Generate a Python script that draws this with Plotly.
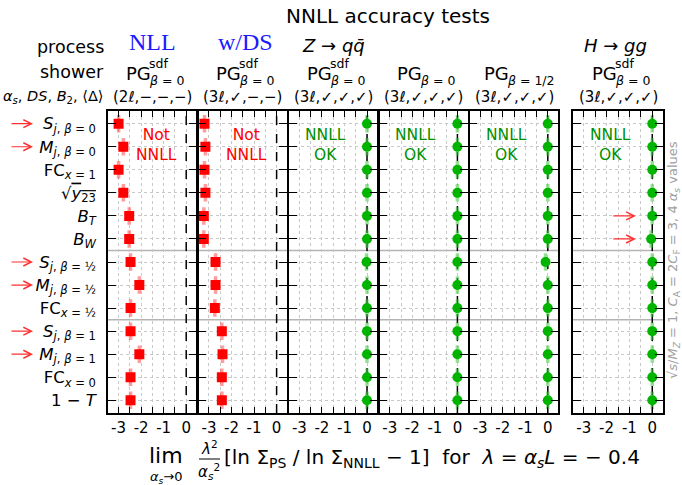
import plotly.graph_objects as go

# ---------------- data ----------------
row_labels = [
    "<i>S</i><sub><i>j</i>, <i>β</i> = 0</sub>",
    "<i>M</i><sub><i>j</i>, <i>β</i> = 0</sub>",
    "FC<sub><i>x</i> = 1</sub>",
    "√<span style='text-decoration:overline'><i>y</i><sub>23</sub></span>",
    "<i>B</i><sub><i>T</i></sub>",
    "<i>B</i><sub><i>W</i></sub>",
    "<i>S</i><sub><i>j</i>, <i>β</i> = ½</sub>",
    "<i>M</i><sub><i>j</i>, <i>β</i> = ½</sub>",
    "FC<sub><i>x</i> = ½</sub>",
    "<i>S</i><sub><i>j</i>, <i>β</i> = 1</sub>",
    "<i>M</i><sub><i>j</i>, <i>β</i> = 1</sub>",
    "FC<sub><i>x</i> = 0</sub>",
    "1 − <i>T</i>",
]
arrow_rows = [0, 1, 6, 7, 9, 10]          # observables marked with red arrows
hgg_arrow_rows = [4, 5]                    # B_T, B_W in H->gg panel

nll_2l = [-3.0, -2.79, -3.0, -2.79, -2.53, -2.53, -2.47, -2.08, -2.47, -2.47, -2.08, -2.47, -2.47]
nll_3l_ds = [-3.2, -3.16, -3.2, -3.16, -3.23, -3.23, -2.71, -2.71, -2.74, -2.43, -2.40, -2.43, -2.43]
pg_sdf_b0 = [0.0, 0.0, 0.0, 0.0, 0.0, 0.0, -0.02, 0.0, 0.0, 0.0, 0.0, 0.0, 0.0]
pg_b0 = [0.0, 0.0, 0.0, 0.0, 0.0, 0.0, 0.0, 0.0, 0.0, 0.0, 0.0, 0.0, 0.0]
pg_b12 = [0.0, 0.0, 0.0, 0.0, 0.0, 0.0, -0.1, 0.0, 0.0, 0.0, 0.0, 0.0, 0.0]
hgg_sdf_b0 = [0.0, 0.0, 0.0, 0.0, 0.0, -0.05, 0.0, 0.0, 0.0, 0.0, 0.0, 0.0, 0.0]

panel_values = [nll_2l, nll_3l_ds, pg_sdf_b0, pg_b0, pg_b12, hgg_sdf_b0]
panel_ok = [False, False, True, True, True, True]
shower_sub = ["β = 0", "β = 0", "β = 0", "β = 0", "β = 1/2", "β = 0"]
shower_sup = ["sdf", "sdf", "sdf", "", "", "sdf"]
settings = ["(2<i>ℓ</i>,−,−,−)", "(3<i>ℓ</i>,✓,−,−)", "(3<i>ℓ</i>,✓,✓,✓)",
            "(3<i>ℓ</i>,✓,✓,✓)", "(3<i>ℓ</i>,✓,✓,✓)", "(3<i>ℓ</i>,✓,✓,✓)"]
x_tickvals = [-3, -2, -1, 0]
x_ticktext = ["-3", "-2", "-1", "0"]
x_minorvals = [-2.5, -1.5, -0.5]
separators = [5.5, 8.5]

# ---------------- layout constants ----------------
W, H = 682, 485
FONT = "DejaVu Sans"
LW = 1.6
# adjacent panels: shift so that the two mirrored border lines coincide
panel_px = [(108, 196.8), (198.4, 287.2), (288.8, 377.6), (379.2, 468.0), (469.6, 558.4),
            (573, 663)]
top_px, bot_px = 111, 413
XR = [-3.47, 0.47]
YR = [12.55, -0.55]
ERR_HALF = 0.38

def px(xp):
    return xp / W

def py(yp):
    return 1 - yp / H

def sfx(k):
    return "" if k == 1 else str(k)

fig = go.Figure()
nrows = len(row_labels)
rows = list(range(nrows))

for i, vals in enumerate(panel_values):
    k = i + 1
    s = sfx(k)
    ok = panel_ok[i]
    # dashed reference line at zero (drawn under the markers)
    fig.add_trace(go.Scatter(
        x=[0, 0], y=YR, mode="lines", xaxis=f"x{s}", yaxis=f"y{s}",
        line=dict(color="black", width=1.5, dash="dash"),
        showlegend=False, hoverinfo="skip"))
    fig.add_trace(go.Scatter(
        x=vals, y=rows, mode="markers", xaxis=f"x{s}", yaxis=f"y{s}",
        marker=dict(symbol="circle" if ok else "square", size=10,
                    color="#00b400" if ok else "#ff0000"),
        error_y=dict(type="data", array=[ERR_HALF] * nrows, width=0, thickness=3.5,
                     color="rgba(60,200,60,0.55)" if ok else "rgba(255,60,60,0.5)"),
        showlegend=False, hoverinfo="skip"))

    xa = dict(domain=[px(panel_px[i][0]), px(panel_px[i][1])], range=XR, anchor=f"y{s}",
              showline=True, linecolor="black", linewidth=LW, mirror="allticks",
              ticks="inside", ticklen=6, tickwidth=1.3, tickcolor="black",
              tickmode="array", tickvals=x_tickvals, ticktext=x_ticktext,
              tickfont=dict(family=FONT, size=15, color="black"),
              showgrid=True, gridcolor="#c8c8c8", griddash="dot", gridwidth=1,
              zeroline=False, fixedrange=True,
              minor=dict(tickmode="array", tickvals=x_minorvals, ticks="inside", ticklen=6,
                         tickwidth=1.3, tickcolor="black", showgrid=True,
                         gridcolor="#c8c8c8", griddash="dot", gridwidth=1))
    ya = dict(domain=[py(bot_px), py(top_px)], range=YR, anchor=f"x{s}",
              showline=True, linecolor="black", linewidth=LW, mirror="allticks",
              ticks="inside", ticklen=8, tickwidth=1.3, tickcolor="black",
              tickmode="array", tickvals=rows,
              showticklabels=(k == 1), ticklabelstandoff=7,
              tickfont=dict(family=FONT, size=16.5, color="black"),
              showgrid=True, gridcolor="#c8c8c8", griddash="dot", gridwidth=1,
              zeroline=False, fixedrange=True)
    if k == 1:
        ya["ticktext"] = row_labels
    fig.update_layout(**{f"xaxis{s}": xa, f"yaxis{s}": ya})

    for sep in separators:
        fig.add_shape(type="line", xref=f"x{s} domain", yref=f"y{s}", x0=0, x1=1, y0=sep, y1=sep,
                      line=dict(color="#b4b4b4", width=1.5), layer="below")

    # panel verdict text
    if ok:
        txt, col, xc = "NNLL<br>OK", "#009000", -1.85
    else:
        txt, col, xc = "Not<br>NNLL", "#ff0000", -1.32
    fig.add_annotation(text=txt, xref=f"x{s}", x=xc, yref="paper", y=py(145),
                       showarrow=False, xanchor="center", yanchor="middle",
                       font=dict(family=FONT, size=15.5, color=col))

    # column headers
    cx = (panel_px[i][0] + panel_px[i][1]) / 2
    subw = 42 if "/" in shower_sub[i] else 34
    left = cx - (23 + subw) / 2
    fig.add_annotation(text="PG", xref="paper", x=px(left), yref="paper", y=py(73),
                       showarrow=False, xanchor="left", yanchor="middle",
                       font=dict(family=FONT, size=18, color="black"))
    if shower_sup[i]:
        fig.add_annotation(text=shower_sup[i], xref="paper", x=px(left + 23), yref="paper",
                           y=py(64), showarrow=False, xanchor="left", yanchor="middle",
                           font=dict(family=FONT, size=12.5, color="black"))
    fig.add_annotation(text="<i>β</i>" + shower_sub[i][1:], xref="paper", x=px(left + 23),
                       yref="paper", y=py(81), showarrow=False, xanchor="left",
                       yanchor="middle", font=dict(family=FONT, size=12.5, color="black"))
    fig.add_annotation(text=settings[i], xref="paper", x=px(cx), yref="paper", y=py(97),
                       showarrow=False, xanchor="center", yanchor="middle",
                       font=dict(family=FONT, size=15, color="black"))

# left red arrows
for r in arrow_rows:
    fig.add_annotation(text="", xref="paper", x=px(33), yref="y", y=r,
                       ax=-23, ay=0, showarrow=True, arrowhead=5, arrowsize=1.3,
                       arrowwidth=1.2, arrowcolor="#ff3030")
for r in hgg_arrow_rows:
    fig.add_annotation(text="", xref="x6", x=-0.72, yref="y6", y=r,
                       ax=-24, ay=0, showarrow=True, arrowhead=5, arrowsize=1.3,
                       arrowwidth=1.2, arrowcolor="#ff3030")

def ann(text, x, y, size, color="black", xanchor="center", family=FONT, angle=0):
    fig.add_annotation(text=text, xref="paper", x=px(x), yref="paper", y=py(y),
                       showarrow=False, xanchor=xanchor, yanchor="middle", textangle=angle,
                       font=dict(family=family, size=size, color=color))

ann("NNLL accuracy tests", 388, 16, 20)
ann("NLL", 152, 42, 24, "#1a1aff", family="Liberation Serif")
ann("w/DS", 245, 42, 24, "#1a1aff", family="Liberation Serif")
ann("<i>Z</i> → <i>q</i><i>q̄</i>", 333, 45, 18)
ann("<i>H</i> → <i>gg</i>", 615, 45, 18)
ann("process", 106, 47, 17.5, xanchor="right")
ann("shower", 106, 72, 17.5, xanchor="right")
ann("<i>α</i><sub><i>s</i></sub>, <i>DS</i>, <i>B</i><sub>2</sub>, ⟨Δ⟩", 106, 97, 14.5, xanchor="right")

# x-axis title
ann("lim", 166, 455, 22)
ann("<i>α</i><sub><i>s</i></sub>→0", 166, 477, 13)
ann("<i>λ</i><sup>2</sup>", 209, 448, 15)
ann("<i>α</i><sub><i>s</i></sub><sup>2</sup>", 209, 471, 15)
fig.add_shape(type="line", xref="paper", yref="paper", x0=px(199), x1=px(220),
              y0=py(459), y1=py(459), line=dict(color="black", width=1))
ann("[ln Σ<sub>PS</sub> / ln Σ<sub>NNLL</sub> − 1]  for  <i>λ</i> = <i>α</i><sub><i>s</i></sub><i>L</i> = − 0.4",
    222, 458, 20, xanchor="left")

# right-hand note
ann("√<i>s</i>/<i>M</i><sub><i>Z</i></sub> = 1, <i>C</i><sub>A</sub> = 2<i>C</i><sub>F</sub> = 3, 4 <i>α</i><sub><i>s</i></sub> values",
    673, 260, 13, "#a0a0a0", angle=-90)

fig.update_layout(width=W, height=H, margin=dict(l=0, r=0, t=0, b=0),
                  paper_bgcolor="white", plot_bgcolor="white",
                  font=dict(family=FONT, color="black"))

fig.write_html("out.html")
